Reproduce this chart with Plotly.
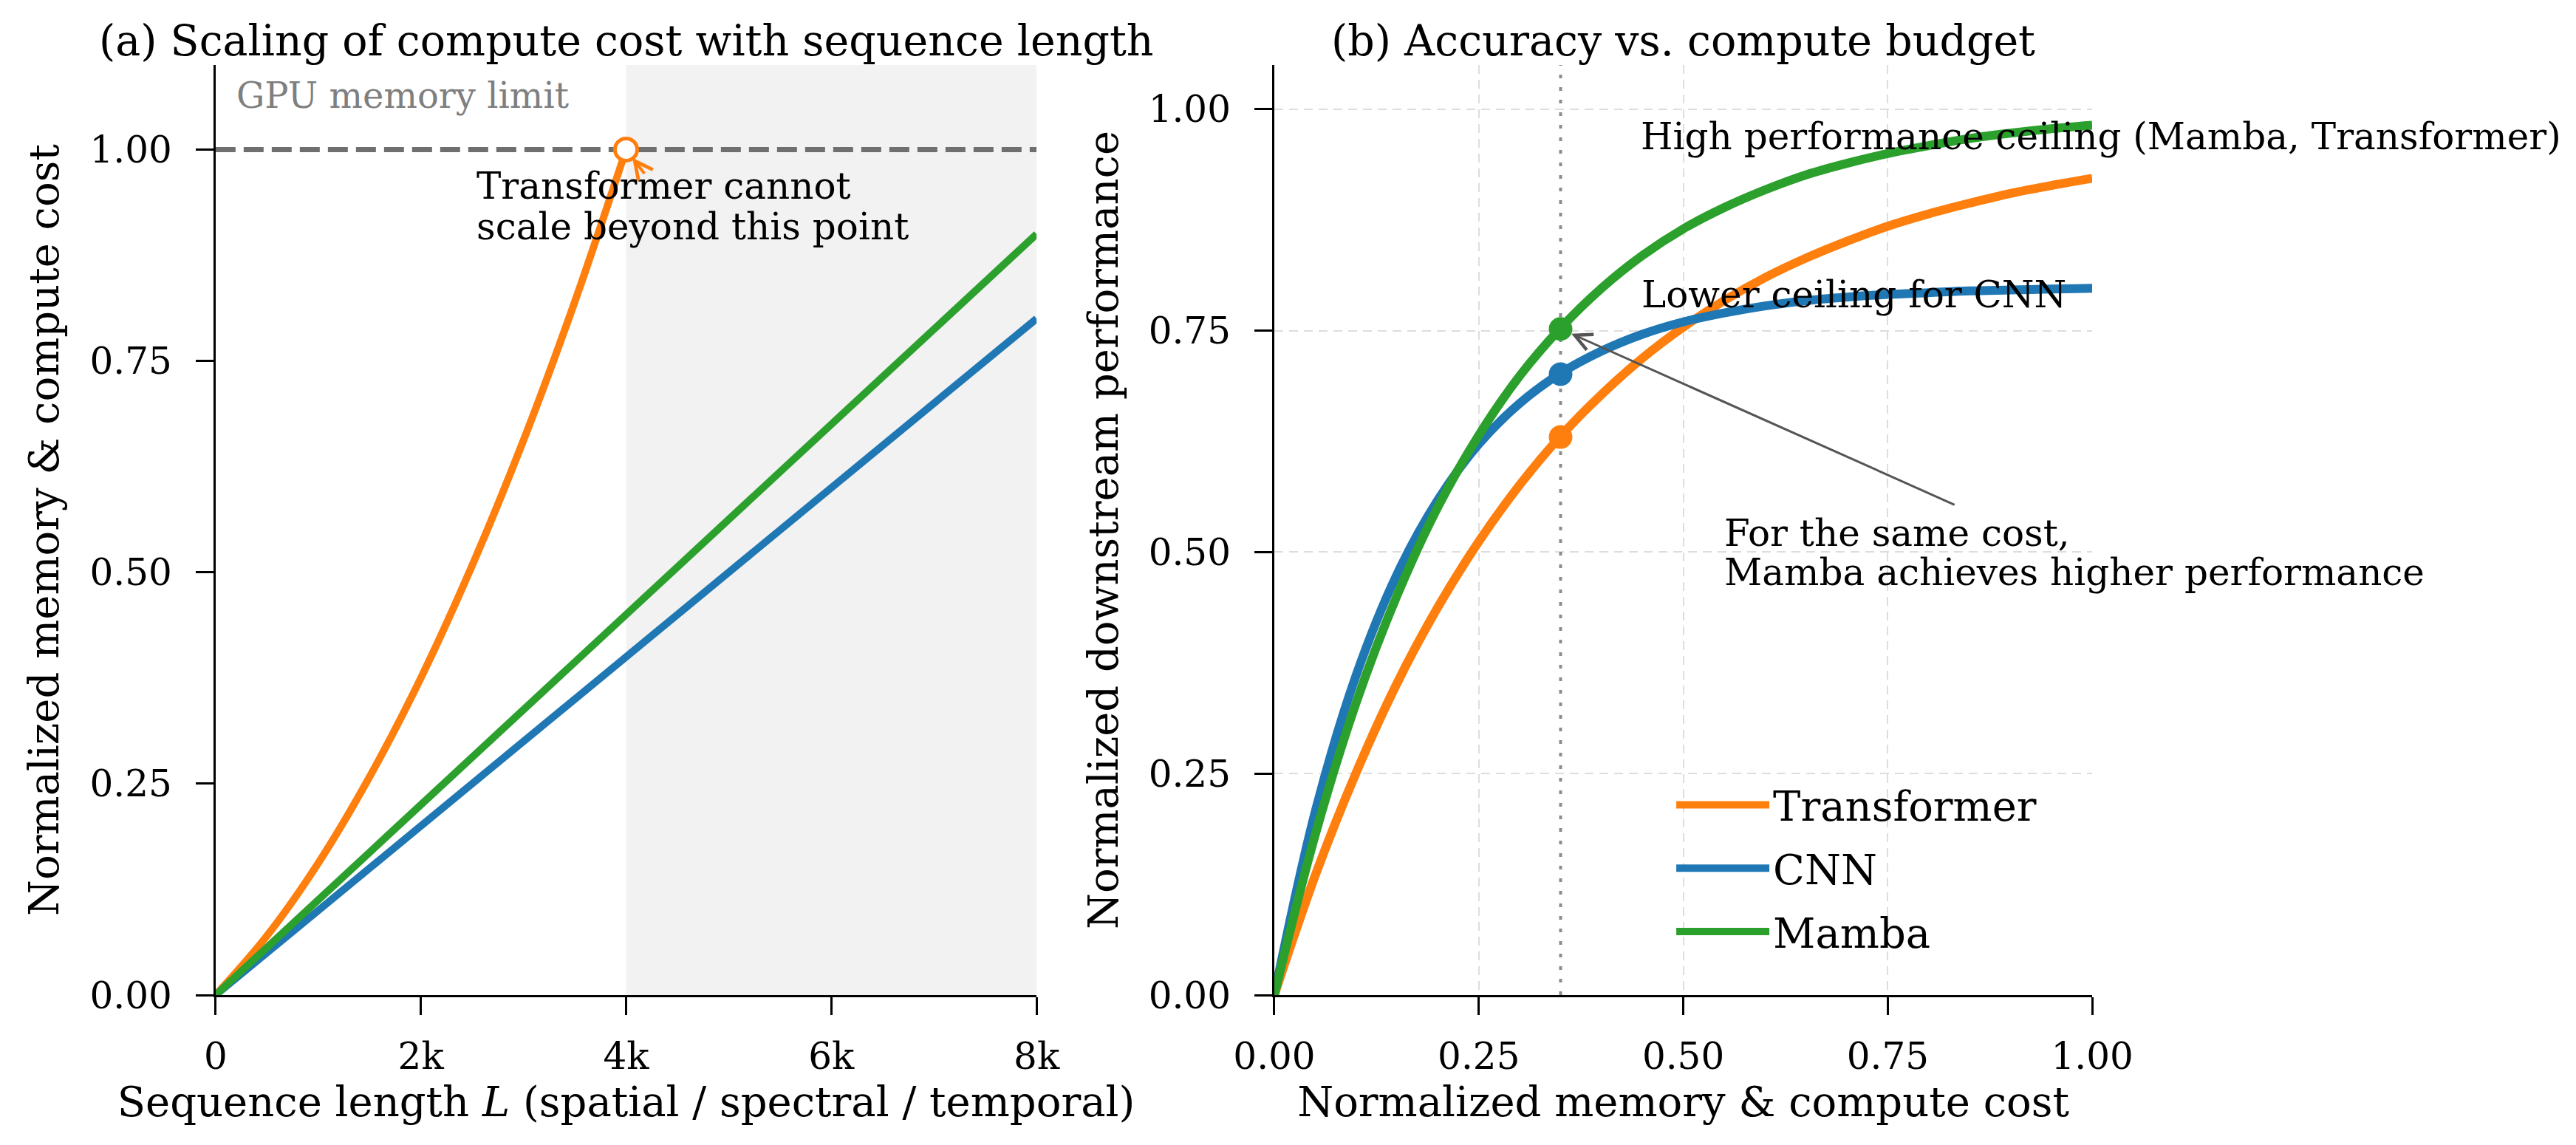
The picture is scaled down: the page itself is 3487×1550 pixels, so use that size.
import plotly.graph_objects as go

# ---------------- data ----------------
# Panel (a): normalized memory & compute cost vs sequence length L
SEQ_LEN = [0, 1000, 2000, 3000, 4000, 5000, 6000, 7000, 8000]
CNN_COST = [0.0, 0.1, 0.2, 0.3, 0.4, 0.5, 0.6, 0.7, 0.8]
MAMBA_COST = [0.0, 0.1125, 0.225, 0.3375, 0.45, 0.5625, 0.675, 0.7875, 0.9]
TRANSFORMER_LEN = [0, 500, 1000, 1500, 2000, 2500, 3000, 3500, 4000]
TRANSFORMER_COST = [0.0, 0.070, 0.156, 0.258, 0.375, 0.508, 0.656, 0.820, 1.0]
GPU_LIMIT = 1.0
MAX_LEN = 8000
X_TICKS_A = [0, 2000, 4000, 6000, 8000]
X_TICKTEXT_A = ["0", "2k", "4k", "6k", "8k"]
Y_RANGE_A = [0, 1.1]

# Panel (b): normalized downstream performance vs normalized cost
BUDGET = [0.00, 0.05, 0.10, 0.15, 0.20, 0.25, 0.30, 0.35, 0.40, 0.45, 0.50,
          0.55, 0.60, 0.65, 0.70, 0.75, 0.80, 0.85, 0.90, 0.95, 1.00]
TRANSFORMER_PERF = [0.000, 0.135, 0.251, 0.352, 0.438, 0.512, 0.576, 0.631, 0.678, 0.719, 0.754,
                    0.784, 0.810, 0.832, 0.851, 0.868, 0.882, 0.894, 0.905, 0.914, 0.922]
CNN_PERF = [0.000, 0.207, 0.361, 0.475, 0.559, 0.622, 0.668, 0.702, 0.727, 0.746, 0.760,
            0.770, 0.778, 0.784, 0.788, 0.791, 0.793, 0.795, 0.796, 0.797, 0.798]
MAMBA_PERF = [0.000, 0.181, 0.330, 0.451, 0.551, 0.632, 0.699, 0.753, 0.798, 0.835, 0.865,
              0.889, 0.909, 0.926, 0.939, 0.950, 0.959, 0.967, 0.973, 0.978, 0.982]
COMPARE_COST = 0.35
COMPARE_PERF = {"Transformer": 0.630, "CNN": 0.701, "Mamba": 0.752}
TICKS_01 = [0.0, 0.25, 0.5, 0.75, 1.0]
Y_RANGE_B = [0, 1.05]

ORANGE = "#ff7f0e"
BLUE = "#1f77b4"
GREEN = "#2ca02c"
FONT = "DejaVu Serif"

fig = go.Figure()

# ---------------- panel (a) ----------------
# GPU memory limit (dashed horizontal reference line)
fig.add_trace(go.Scatter(x=[0, MAX_LEN], y=[GPU_LIMIT, GPU_LIMIT], mode="lines",
                         line=dict(color="#6f6f6f", width=7, dash="27px,11px"),
                         hoverinfo="skip", showlegend=False, xaxis="x", yaxis="y"))
fig.add_trace(go.Scatter(x=TRANSFORMER_LEN, y=TRANSFORMER_COST, mode="lines",
                         line=dict(color=ORANGE, width=10, shape="spline"),
                         name="Transformer", showlegend=False, xaxis="x", yaxis="y"))
fig.add_trace(go.Scatter(x=SEQ_LEN, y=CNN_COST, mode="lines",
                         line=dict(color=BLUE, width=10),
                         name="CNN", showlegend=False, xaxis="x", yaxis="y"))
fig.add_trace(go.Scatter(x=SEQ_LEN, y=MAMBA_COST, mode="lines",
                         line=dict(color=GREEN, width=10),
                         name="Mamba", showlegend=False, xaxis="x", yaxis="y"))
fig.add_trace(go.Scatter(x=[TRANSFORMER_LEN[-1]], y=[TRANSFORMER_COST[-1]], mode="markers",
                         marker=dict(size=30, color="white", line=dict(color=ORANGE, width=5)),
                         showlegend=False, xaxis="x", yaxis="y"))

# ---------------- panel (b) ----------------
# equal-budget dotted vertical line
fig.add_trace(go.Scatter(x=[COMPARE_COST, COMPARE_COST], y=Y_RANGE_B, mode="lines",
                         line=dict(color="#8c8c8c", width=4, dash="5px,12px"),
                         hoverinfo="skip", showlegend=False, xaxis="x2", yaxis="y2"))
for name, perf, col in [("Transformer", TRANSFORMER_PERF, ORANGE),
                        ("CNN", CNN_PERF, BLUE),
                        ("Mamba", MAMBA_PERF, GREEN)]:
    fig.add_trace(go.Scatter(x=BUDGET, y=perf, mode="lines", name=name,
                             line=dict(color=col, width=12, shape="spline"),
                             legendgroup=name, xaxis="x2", yaxis="y2"))
for name, col in [("Transformer", ORANGE), ("CNN", BLUE), ("Mamba", GREEN)]:
    fig.add_trace(go.Scatter(x=[COMPARE_COST], y=[COMPARE_PERF[name]], mode="markers",
                             marker=dict(size=32, color=col), showlegend=False,
                             xaxis="x2", yaxis="y2"))

# ---------------- shapes ----------------
shapes = [
    # region beyond GPU memory
    dict(type="rect", xref="x", yref="y domain", x0=TRANSFORMER_LEN[-1], x1=MAX_LEN, y0=0, y1=1,
         fillcolor="#f2f2f2", line=dict(width=0), layer="below"),
]

ann_font = dict(family=FONT, size=50, color="black")
title_font = dict(family=FONT, size=57, color="black")
annotations = [
    dict(text="(a) Scaling of compute cost with sequence length", xref="paper", yref="paper",
         x=0.2408, y=0.9697, xanchor="center", yanchor="middle", showarrow=False,
         font=title_font),
    dict(text="(b) Accuracy vs. compute budget", xref="paper", yref="paper",
         x=0.6512, y=0.9697, xanchor="center", yanchor="middle", showarrow=False,
         font=title_font),
    dict(text="GPU memory limit", xref="x", yref="y", x=190, y=1.064,
         xanchor="left", yanchor="middle", showarrow=False,
         font=dict(family=FONT, size=48, color="#7f7f7f")),
    dict(text="Transformer cannot", xref="x", yref="y", x=2530, y=0.957,
         xanchor="left", yanchor="middle", showarrow=False, font=ann_font),
    dict(text="scale beyond this point", xref="x", yref="y", x=2530, y=0.909,
         xanchor="left", yanchor="middle", showarrow=False, font=ann_font),
    dict(text="", xref="x", yref="y", x=TRANSFORMER_LEN[-1], y=TRANSFORMER_COST[-1],
         ax=26, ay=34, showarrow=True, arrowhead=5, arrowsize=1.2, arrowwidth=4,
         arrowcolor=ORANGE, standoff=14),
    dict(text="High performance ceiling (Mamba, Transformer)", xref="x2", yref="y2",
         x=0.446, y=0.969, xanchor="left", yanchor="middle", showarrow=False, font=ann_font),
    dict(text="Lower ceiling for CNN", xref="x2", yref="y2",
         x=0.447, y=0.791, xanchor="left", yanchor="middle", showarrow=False, font=ann_font),
    dict(text="For the same cost,", xref="x2", yref="y2",
         x=0.548, y=0.521, xanchor="left", yanchor="middle", showarrow=False, font=ann_font),
    dict(text="Mamba achieves higher performance", xref="x2", yref="y2",
         x=0.548, y=0.477, xanchor="left", yanchor="middle", showarrow=False, font=ann_font),
    dict(text="", xref="x2", yref="y2", x=COMPARE_COST, y=COMPARE_PERF["Mamba"],
         axref="x2", ayref="y2", ax=0.833, ay=0.553, showarrow=True, arrowhead=5,
         arrowsize=1.5, arrowwidth=3, arrowcolor="#555555", standoff=16),
]

axis_common = dict(showline=True, linecolor="black", linewidth=3, ticks="outside",
                   ticklen=24, tickwidth=3, tickcolor="black", zeroline=False,
                   automargin=False,
                   tickfont=dict(family=FONT, size=50, color="black"),
                   title_font=dict(family=FONT, size=56, color="black"))

fig.update_layout(
    width=3487, height=1550, autosize=False,
    margin=dict(l=0, r=0, t=0, b=0, autoexpand=False),
    paper_bgcolor="white", plot_bgcolor="white",
    font=dict(family=FONT, color="black"),
    xaxis=dict(domain=[0.0814, 0.4001], range=[0, MAX_LEN], tickvals=X_TICKS_A,
               ticktext=X_TICKTEXT_A, showgrid=False, anchor="y", ticklabelstandoff=13,
               title=dict(text="Sequence length <i>L</i> (spatial / spectral / temporal)",
                          standoff=12), **axis_common),
    yaxis=dict(domain=[0.1361, 0.9484], range=Y_RANGE_A, tickvals=TICKS_01, tickformat=".2f",
               showgrid=False, anchor="x", ticklabelstandoff=22,
               title=dict(text="Normalized memory & compute cost", standoff=24), **axis_common),
    xaxis2=dict(domain=[0.4924, 0.8099], range=[0, 1.0], tickvals=TICKS_01, tickformat=".2f",
                showgrid=True, gridcolor="#dddddd", gridwidth=2, griddash="12px,8px",
                anchor="y2", ticklabelstandoff=13,
                title=dict(text="Normalized memory & compute cost", standoff=12), **axis_common),
    yaxis2=dict(domain=[0.1361, 0.9484], range=Y_RANGE_B, tickvals=TICKS_01, tickformat=".2f",
                showgrid=True, gridcolor="#dddddd", gridwidth=2, griddash="12px,8px",
                anchor="x2", ticklabelstandoff=22,
                title=dict(text="Normalized downstream performance", standoff=24), **axis_common),
    legend=dict(x=0.647, y=0.33, xanchor="left", yanchor="top", bgcolor="rgba(0,0,0,0)",
                font=dict(family=FONT, size=56, color="black"), itemwidth=126,
                tracegroupgap=10, traceorder="grouped"),
    shapes=shapes,
    annotations=annotations,
)

fig.write_html("out.html")
